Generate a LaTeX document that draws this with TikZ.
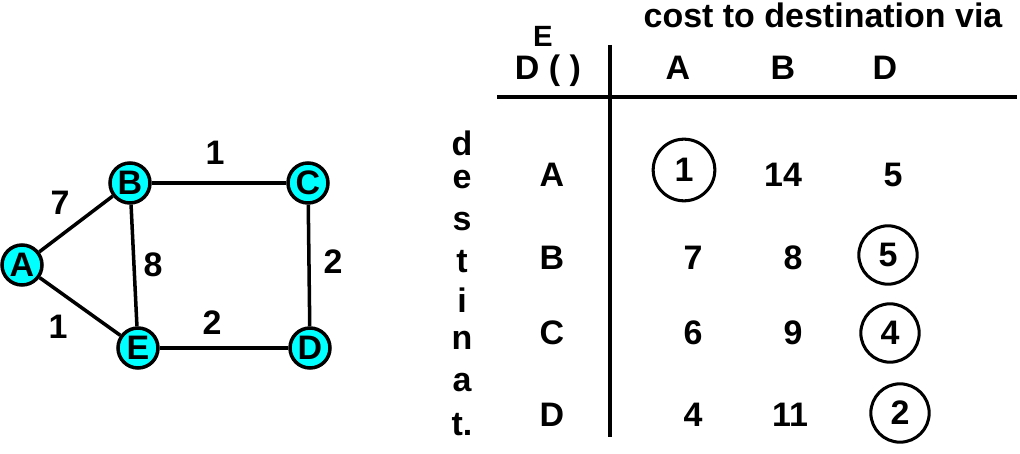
\documentclass[tikz,border=0pt]{standalone}
\usepackage{fontspec}
\setmainfont{Liberation Sans}
\definecolor{vcyan}{RGB}{0,255,255}
\begin{document}
\begin{tikzpicture}[x=0.03cm,y=-0.03cm,
  every node/.style={font=\fontsize{29}{34}\selectfont\bfseries},
  vtx/.style={circle,draw,fill=vcyan,line width=3pt,minimum size=1.2cm,inner sep=0pt},
  edge/.style={line width=3pt},
  ring/.style={circle,draw,line width=2.6pt,minimum size=1.85cm,inner sep=0pt},
  rule/.style={line width=3.4pt}]
\useasboundingbox (0,0) rectangle (1020,453);
\node[vtx] (A) at (22,265) {A};
\node[vtx] (B) at (130,183) {B};
\node[vtx] (C) at (308,183) {C};
\node[vtx] (E) at (138,348) {E};
\node[vtx] (D) at (310,348) {D};
\draw[edge] (A)--(B) (B)--(C) (C)--(D) (D)--(E) (E)--(A) (B)--(E);
\node (l1) at (60,203) {7};
\node (l2) at (215,153) {1};
\node (l3) at (153,265) {8};
\node (l4) at (333,262) {2};
\node (l5) at (58,327) {1};
\node (l6) at (212,323) {2};
% table
\coordinate (h1) at (497,97); \coordinate (h2) at (1017,97);
\coordinate (v1) at (610,45); \coordinate (v2) at (610,437);
\draw[rule] (h1)--(h2);
\draw[rule] (v1)--(v2);
\node (title) at (823,15) {cost to destination via};
\node (hd) at (548,71) {D ( )};
\node[font=\fontsize{25}{30}\selectfont\bfseries] (hE) at (543,36) {E};
\node (cA) at (678,68) {A};
\node (cB) at (783,68) {B};
\node (cD) at (885,68) {D};
\node (rA) at (552,175) {A};
\node (rB) at (552,258) {B};
\node (rC) at (552,333) {C};
\node (rD) at (552,415) {D};
\node[ring] (v11) at (684,170) {1};
\node (v12) at (783,175) {14};
\node (v13) at (893,175) {5};
\node (v21) at (693,258) {7};
\node (v22) at (793,258) {8};
\node[ring,minimum size=1.75cm] (v23) at (888,255) {5};
\node (v31) at (693,333) {6};
\node (v32) at (793,333) {9};
\node[ring,minimum size=1.75cm] (v33) at (890,333) {4};
\node (v41) at (693,415) {4};
\node (v42) at (790,415) {11};
\node[ring,minimum size=1.75cm] (v43) at (900,413) {2};
\node (d1) at (462,143) {d};
\node (d2) at (462,180) {e};
\node (d3) at (462,222) {s};
\node (d4) at (462,262) {t};
\node (d5) at (462,300) {i};
\node (d6) at (462,340) {n};
\node (d7) at (462,383) {a};
\node (d8) at (462,425) {t.};
\end{tikzpicture}
\end{document}
